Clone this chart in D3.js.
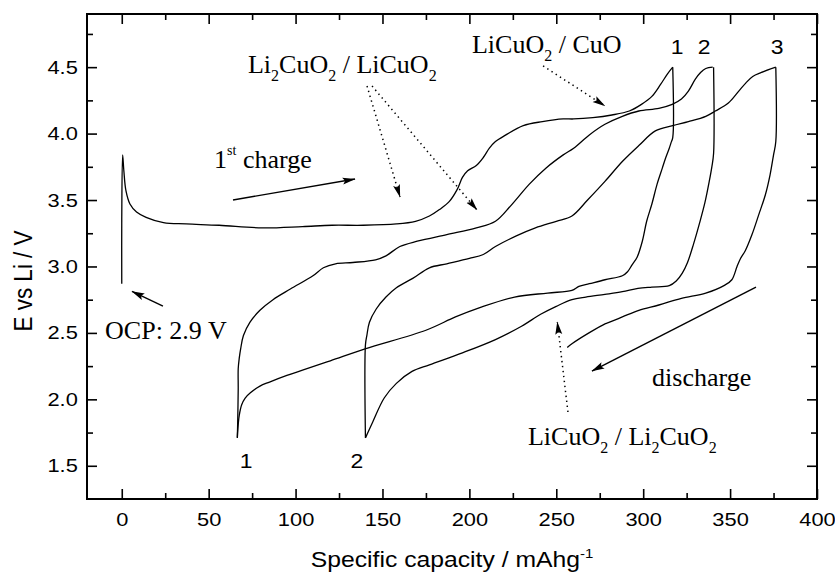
<!DOCTYPE html>
<html>
<head>
<meta charset="utf-8">
<script src="https://cdn.jsdelivr.net/npm/d3@7"></script>
<style>
  body { margin: 0; background: #fff; }
  svg { display: block; }
</style>
</head>
<body>
<svg id="chart" width="835" height="576"></svg>
<script>
// Galvanostatic cycling, [capacity mAh/g, E vs Li V]
const charge1 = [[0,2.87],[0,3.35],[0.5,3.84],[1.2,3.72],[2.4,3.57],[4.7,3.47],[8.5,3.41],[14,3.37],[24,3.33],[37,3.32],[56,3.31],[81,3.29],[104,3.30],[121,3.31],[139,3.31],[158,3.32],[169,3.34],[177,3.38],[183,3.43],[188.5,3.49],[193,3.58],[196,3.67],[199,3.72],[204,3.76],[208,3.82],[211.5,3.89],[215,3.94],[221,3.99],[231,4.06],[242,4.09],[254,4.11],[260,4.11],[271,4.12],[282,4.14],[292,4.17],[299,4.22],[305,4.28],[310,4.37],[314,4.45],[317,4.50]];
const discharge1 = [[317,4.50],[317,3.97],[316,3.93],[315,3.89],[313,3.82],[311,3.74],[308,3.62],[305,3.47],[302,3.34],[299.5,3.19],[296.5,3.07],[293.5,3.01],[291,2.96],[288,2.93],[278,2.90],[269,2.87],[263,2.85],[259,2.82],[245,2.80],[226,2.77],[206,2.69],[192,2.62],[175,2.52],[140,2.38],[120,2.29],[104,2.22],[95,2.18],[85,2.13],[79.5,2.10],[74,2.05],[71,2.01],[69,1.96],[67.6,1.88],[66.8,1.78],[66.5,1.71]];
const charge2 = [[66.5,1.71],[66.7,1.83],[67,2.08],[67,2.23],[67.6,2.31],[68.4,2.38],[70,2.48],[73.7,2.58],[79.5,2.67],[87,2.75],[97,2.83],[110,2.93],[116,2.99],[123,3.02],[133,3.03],[146,3.05],[152,3.08],[160,3.15],[170,3.19],[187,3.24],[204,3.29],[215,3.34],[224,3.46],[234.5,3.62],[244,3.74],[254,3.84],[260,3.89],[269,3.99],[278,4.07],[288,4.13],[297.5,4.17],[309,4.19],[316.7,4.22],[322,4.26],[326,4.32],[330,4.41],[333,4.46],[336,4.49],[340,4.50]];
const discharge2 = [[340.5,4.50],[340.5,3.85],[339.5,3.75],[338,3.64],[335.5,3.48],[332.5,3.33],[329,3.17],[325.5,3.03],[322.5,2.95],[319,2.89],[315,2.855],[305,2.845],[297,2.835],[288,2.81],[278,2.79],[267,2.77],[259,2.75],[250,2.70],[241,2.64],[230,2.55],[215,2.45],[196,2.35],[177,2.26],[167,2.21],[158,2.12],[151,2.01],[144.4,1.83],[140.2,1.71]];
const charge3 = [[140.2,1.71],[140.2,2.41],[141,2.48],[142.5,2.58],[146.4,2.68],[152,2.77],[158,2.84],[167.4,2.91],[177,2.99],[187,3.02],[200,3.06],[208,3.09],[215,3.15],[227,3.23],[238,3.29],[250,3.34],[259,3.38],[268,3.50],[278,3.64],[288,3.79],[297.5,3.91],[307,4.02],[317,4.06],[326,4.09],[336,4.13],[341.5,4.17],[349,4.23],[355,4.32],[359,4.38],[363,4.43],[368,4.46],[376.3,4.50]];
const discharge3 = [[376.3,4.50],[376.3,3.94],[375,3.84],[373,3.69],[370.3,3.54],[366.5,3.39],[362.6,3.24],[358.8,3.12],[356,3.06],[354,3.00],[351,2.90],[347,2.86],[336,2.80],[322,2.76],[309,2.71],[297.5,2.67],[288,2.62],[280.3,2.58],[278.3,2.57],[268.8,2.50],[259.2,2.42],[256.3,2.39]];

const xMajor = [0, 50, 100, 150, 200, 250, 300, 350, 400];
const xMinor = [25, 75, 125, 175, 225, 275, 325, 375];
const yMajor = [1.5, 2.0, 2.5, 3.0, 3.5, 4.0, 4.5];
const yMinor = [1.75, 2.25, 2.75, 3.25, 3.75, 4.25, 4.75];

// cycle numbers at the ends of the curves
const cycleLabels = [
  { t: "1", x: 319.5, y: 4.6 }, { t: "2", x: 335, y: 4.6 }, { t: "3", x: 377, y: 4.6 },
  { t: "1", x: 71.5, y: 1.483 }, { t: "2", x: 135.3, y: 1.483 }
];
// arrows: from -> to, in data units
const arrows = [
  { x1: 64.0, y1: 3.50, x2: 134.2, y2: 3.658, dotted: false },
  { x1: 23.7, y1: 2.702, x2: 5.9, y2: 2.812, dotted: false },
  { x1: 364.9, y1: 2.845, x2: 270.5, y2: 2.213, dotted: false },
  { x1: 141.1, y1: 4.358, x2: 160.1, y2: 3.523, dotted: true },
  { x1: 144.0, y1: 4.358, x2: 204.4, y2: 3.425, dotted: true },
  { x1: 242.4, y1: 4.509, x2: 278.0, y2: 4.208, dotted: true },
  { x1: 256.7, y1: 1.905, x2: 250.6, y2: 2.582, dotted: true }
];

const svg = d3.select("#chart");
const margin = { top: 14, right: 18, bottom: 77, left: 87 };
const width = 835 - margin.left - margin.right;
const height = 576 - margin.top - margin.bottom;

const sans = "'Liberation Sans', Arial, Helvetica, sans-serif";
const serif = "'Liberation Serif', 'Times New Roman', Times, serif";

const x = d3.scaleLinear().domain([-20, 400]).range([0, width]);
const y = d3.scaleLinear().domain([1.25, 4.9]).range([height, 0]);

const g = svg.append("g").attr("transform", `translate(${margin.left},${margin.top})`);

// arrow head
svg.append("defs").append("marker")
  .attr("id", "head")
  .attr("viewBox", "0 0 13 8")
  .attr("refX", 12.5).attr("refY", 4)
  .attr("markerWidth", 13).attr("markerHeight", 8)
  .attr("markerUnits", "userSpaceOnUse")
  .attr("orient", "auto")
  .append("path")
  .attr("d", "M0,0.5 L13,4 L0,7.5 L2.5,4 Z")
  .attr("fill", "#000");

function styleTicks(sel) {
  sel.select(".domain").remove();
  sel.selectAll(".tick line").attr("stroke", "#000").attr("stroke-width", 1.6);
}

// ticks on all four sides, pointing inward
g.append("g").attr("transform", `translate(0,${height})`)
  .call(d3.axisBottom(x).tickValues(xMajor).tickSizeInner(-10).tickSizeOuter(0).tickPadding(14).tickFormat(d3.format("d")))
  .call(styleTicks);
g.append("g").attr("transform", `translate(0,${height})`)
  .call(d3.axisBottom(x).tickValues(xMinor).tickSizeInner(-6).tickSizeOuter(0).tickFormat(""))
  .call(styleTicks);
g.append("g")
  .call(d3.axisTop(x).tickValues(xMajor).tickSizeInner(-10).tickSizeOuter(0).tickFormat(""))
  .call(styleTicks);
g.append("g")
  .call(d3.axisTop(x).tickValues(xMinor).tickSizeInner(-6).tickSizeOuter(0).tickFormat(""))
  .call(styleTicks);
g.append("g")
  .call(d3.axisLeft(y).tickValues(yMajor).tickSizeInner(-10).tickSizeOuter(0).tickPadding(8).tickFormat(d3.format(".1f")))
  .call(styleTicks);
g.append("g")
  .call(d3.axisLeft(y).tickValues(yMinor).tickSizeInner(-6).tickSizeOuter(0).tickFormat(""))
  .call(styleTicks);
g.append("g").attr("transform", `translate(${width},0)`)
  .call(d3.axisRight(y).tickValues(yMajor).tickSizeInner(-10).tickSizeOuter(0).tickFormat(""))
  .call(styleTicks);
g.append("g").attr("transform", `translate(${width},0)`)
  .call(d3.axisRight(y).tickValues(yMinor).tickSizeInner(-6).tickSizeOuter(0).tickFormat(""))
  .call(styleTicks);

g.selectAll(".tick text")
  .attr("font-family", sans)
  .attr("font-size", 19)
  .attr("fill", "#000")
  .attr("transform", "scale(1.15,1)");

// frame
g.append("rect")
  .attr("width", width).attr("height", height)
  .attr("fill", "none").attr("stroke", "#000").attr("stroke-width", 2);

// curves
const line = d3.line()
  .x(d => x(d[0]))
  .y(d => y(d[1]))
  .curve(d3.curveCatmullRom.alpha(0.5));

const segments = [charge1, discharge1, charge2, discharge2, charge3, discharge3];
g.selectAll("path.cycle")
  .data(segments)
  .join("path")
  .attr("class", "cycle")
  .attr("d", line)
  .attr("fill", "none")
  .attr("stroke", "#000")
  .attr("stroke-width", 1.3)
  .attr("stroke-linejoin", "round");

// arrows
g.selectAll("line.arrow")
  .data(arrows)
  .join("line")
  .attr("class", "arrow")
  .attr("x1", d => x(d.x1)).attr("y1", d => y(d.y1))
  .attr("x2", d => x(d.x2)).attr("y2", d => y(d.y2))
  .attr("stroke", "#000")
  .attr("stroke-width", d => d.dotted ? 1.5 : 1.4)
  .attr("stroke-dasharray", d => d.dotted ? "1.4,3.6" : null)
  .attr("marker-end", "url(#head)");

// cycle numbers
g.selectAll("text.cyc")
  .data(cycleLabels)
  .join("text")
  .attr("class", "cyc")
  .attr("transform", d => `translate(${x(d.x)},${y(d.y)}) scale(1.12,1)`)
  .attr("text-anchor", "middle")
  .attr("font-family", sans)
  .attr("font-size", 20.5)
  .text(d => d.t);

// serif annotations with sub/superscripts
function richText(px, py, parts) {
  const t = g.append("text")
    .attr("x", x(px)).attr("y", y(py))
    .attr("font-family", serif)
    .attr("font-size", 26)
    .attr("fill", "#000");
  let shift = 0;
  parts.forEach(p => {
    const target = p.sub ? 8 : p.sup ? -13 : 0;
    t.append("tspan")
      .attr("dy", target - shift)
      .attr("font-size", p.sub ? 16 : p.sup ? 14 : 26)
      .text(p.s);
    shift = target;
  });
}

richText(72.6, 4.456, [{ s: "Li" }, { s: "2", sub: true }, { s: "CuO" }, { s: "2", sub: true }, { s: " / LiCuO" }, { s: "2", sub: true }]);
richText(201.5, 4.607, [{ s: "LiCuO" }, { s: "2", sub: true }, { s: " / CuO" }]);
richText(233.7, 1.656, [{ s: "LiCuO" }, { s: "2", sub: true }, { s: " / Li" }, { s: "2", sub: true }, { s: "CuO" }, { s: "2", sub: true }]);
richText(53.1, 3.741, [{ s: "1" }, { s: "st", sup: true }, { s: " charge" }]);
richText(-9.6, 2.454, [{ s: "OCP: 2.9 V" }]);
richText(305.1, 2.10, [{ s: "discharge" }]);

// axis titles
const xt = svg.append("text")
  .attr("transform", `translate(${margin.left + width / 2},567) scale(1.15,1)`)
  .attr("text-anchor", "middle")
  .attr("font-family", sans)
  .attr("font-size", 21.5)
  .text("Specific capacity / mAhg");
xt.append("tspan").attr("dy", -9).attr("font-size", 13).text("-1");

svg.append("text")
  .attr("transform", "translate(32,281) rotate(-90) scale(1,1.12)")
  .attr("text-anchor", "middle")
  .attr("font-family", sans)
  .attr("font-size", 22.5)
  .text("E vs Li / V");
</script>
</body>
</html>
